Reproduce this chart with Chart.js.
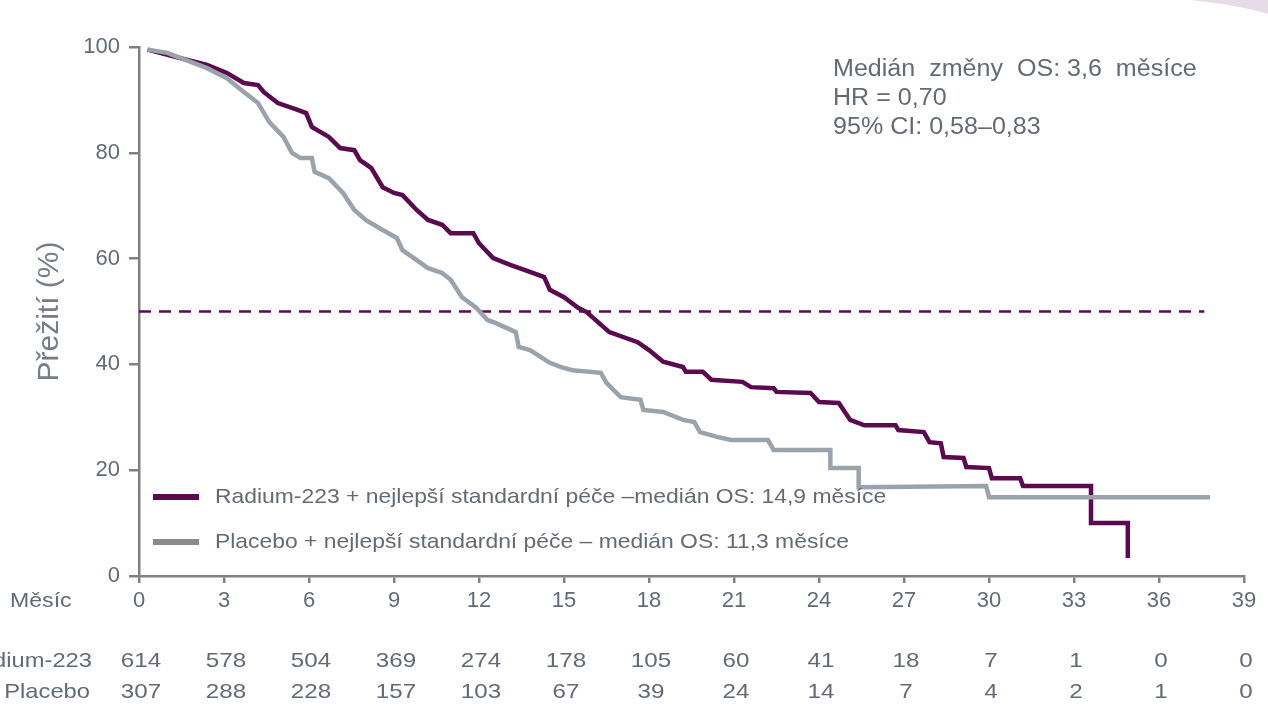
<!DOCTYPE html>
<html>
<head>
<meta charset="utf-8">
<script src="https://cdn.jsdelivr.net/npm/chart.js@4"></script>
<style>
  body { margin: 0; background: #fff; }
  canvas { display: block; }
</style>
</head>
<body>
<canvas id="km" width="1268" height="723"></canvas>
<script>
const radiumMonths = [0.3, 2.4, 3.1, 3.7, 4.2, 4.4, 4.9, 5.6, 5.9, 6.1, 6.7, 7.1, 7.6, 7.8, 8.2, 8.6, 9.0, 9.3, 9.8, 10.2, 10.7, 11.0, 11.8, 12.0, 12.5, 13.1, 13.8, 14.3, 14.5, 15.0, 15.5, 15.8, 16.2, 16.6, 17.6, 18.0, 18.5, 19.2, 19.3, 19.9, 20.2, 21.3, 21.6, 22.4, 22.5, 23.7, 24.0, 24.7, 25.1, 25.6, 26.7, 26.8, 27.7, 27.9, 28.3, 28.4, 29.1, 29.2, 30.0, 30.1, 31.1, 31.2, 33.6, 33.6, 34.9, 34.9];
const radiumSurvival = [99.5, 96.6, 95.1, 93.2, 92.8, 91.5, 89.4, 88.1, 87.5, 84.9, 83.0, 80.9, 80.5, 78.6, 77.1, 73.5, 72.4, 72.0, 69.2, 67.3, 66.4, 64.8, 64.8, 62.9, 60.1, 58.8, 57.5, 56.5, 54.1, 52.7, 50.7, 49.9, 48.0, 46.1, 44.2, 42.7, 40.5, 39.5, 38.6, 38.6, 37.1, 36.7, 35.7, 35.5, 34.8, 34.6, 32.9, 32.7, 29.5, 28.5, 28.5, 27.6, 27.2, 25.3, 25.1, 22.5, 22.3, 20.6, 20.4, 18.5, 18.5, 17.0, 17.0, 10.0, 10.0, 3.4];

const placeboMonths = [0.3, 1.0, 2.4, 3.1, 3.7, 4.2, 4.6, 5.1, 5.4, 5.7, 6.1, 6.2, 6.7, 7.2, 7.6, 8.0, 8.6, 9.1, 9.3, 9.8, 10.2, 10.7, 11.0, 11.4, 11.9, 12.3, 12.6, 13.3, 13.4, 13.8, 14.5, 14.9, 15.3, 16.3, 16.5, 17.0, 17.7, 17.8, 18.5, 19.2, 19.6, 19.8, 20.4, 20.9, 22.2, 22.4, 24.4, 24.4, 25.4, 25.4, 29.9, 30.0, 37.8];
const placeboSurvival = [99.5, 98.9, 96.0, 94.1, 91.5, 89.4, 85.8, 83.0, 80.0, 79.0, 79.0, 76.4, 75.2, 72.4, 69.2, 67.3, 65.4, 63.9, 61.6, 59.7, 58.2, 57.3, 56.0, 52.7, 50.7, 48.4, 47.8, 46.1, 43.3, 42.7, 40.3, 39.5, 38.9, 38.4, 36.5, 33.8, 33.3, 31.4, 31.0, 29.5, 29.1, 27.2, 26.3, 25.7, 25.7, 23.8, 23.8, 20.4, 20.4, 16.8, 17.0, 14.9, 14.9];

const medianLine = [0, 37.6];

const riskMonths = [0, 3, 6, 9, 12, 15, 18, 21, 24, 27, 30, 33, 36, 39];
const radiumAtRisk = [614, 578, 504, 369, 274, 178, 105, 60, 41, 18, 7, 1, 0, 0];
const placeboAtRisk = [307, 288, 228, 157, 103, 67, 39, 24, 14, 7, 4, 2, 1, 0];

const legendLabels = [
  'Radium-223 + nejlepší standardní péče –medián OS: 14,9 měsíce',
  'Placebo + nejlepší standardní péče – medián OS: 11,3 měsíce'
];
const statLines = ['Medián  změny  OS: 3,6  měsíce', 'HR = 0,70', '95% CI: 0,58–0,83'];

const PURPLE = '#5b0a4f';
const GRAY = '#9aa3ab';
const TEXT = '#646a75';
const FONT = '"Liberation Sans", Arial, sans-serif';

function pts(xs, ys) {
  return xs.map((x, i) => ({ x: x, y: ys[i] }));
}

// text in the source slide is a bit stretched sideways
function wide(c, text, x, y, sx, align) {
  c.save();
  c.translate(x, y);
  c.scale(sx, 1);
  c.textAlign = align;
  c.fillText(text, 0, 0);
  c.restore();
}

const extras = {
  id: 'extras',
  beforeDraw(chart) {
    const c = chart.ctx;
    c.save();
    c.fillStyle = '#e7dbe8';
    c.beginPath();
    c.moveTo(1190, 0);
    c.quadraticCurveTo(1238, 5, 1268, 14);
    c.lineTo(1268, 0);
    c.closePath();
    c.fill();
    c.restore();
  },
  afterDatasetsDraw(chart) {
    const c = chart.ctx;
    const x = chart.scales.x;
    c.save();
    c.fillStyle = TEXT;
    c.textBaseline = 'middle';

    // statistika vpravo nahoře
    c.font = '23px ' + FONT;
    statLines.forEach((t, i) => wide(c, t, 833, 70 + i * 29, 1.09, 'left'));

    // legenda
    [PURPLE, '#8a8a8a'].forEach((col, i) => {
      const y = 497 + i * 45;
      c.strokeStyle = col;
      c.lineWidth = 6;
      c.beginPath();
      c.moveTo(153, y);
      c.lineTo(199, y);
      c.stroke();
      c.font = '21px ' + FONT;
      wide(c, legendLabels[i], 215, y, 1.09, 'left');
    });

    // tabulka počtu pacientů
    c.font = '21px ' + FONT;
    wide(c, 'Měsíc', 10, 601, 1.1, 'left');
    wide(c, 'Radium-223', 92, 661, 1.13, 'right');
    wide(c, 'Placebo', 90, 692, 1.13, 'right');
    riskMonths.forEach((m, i) => {
      const px = x.getPixelForValue(m);
      wide(c, String(radiumAtRisk[i]), px + 2, 661, 1.15, 'center');
      wide(c, String(placeboAtRisk[i]), px + 2, 692, 1.15, 'center');
    });
    c.restore();
  }
};

new Chart(document.getElementById('km'), {
  type: 'line',
  data: {
    datasets: [
      {
        data: pts(placeboMonths, placeboSurvival),
        borderColor: GRAY,
        borderWidth: 4.5,
        pointRadius: 0,
        tension: 0
      },
      {
        data: pts(radiumMonths, radiumSurvival),
        borderColor: PURPLE,
        borderWidth: 4.5,
        pointRadius: 0,
        tension: 0
      },
      {
        data: medianLine.map(m => ({ x: m, y: 50 })),
        borderColor: PURPLE,
        borderWidth: 2.5,
        borderDash: [12, 8],
        pointRadius: 0
      }
    ]
  },
  options: {
    responsive: false,
    animation: false,
    layout: { padding: { top: 47, right: 24, left: 0, bottom: 0 } },
    plugins: { legend: { display: false }, tooltip: { enabled: false } },
    scales: {
      x: {
        type: 'linear',
        min: 0,
        max: 39,
        afterFit: s => { s.height = 147; },
        ticks: { stepSize: 3, color: TEXT, padding: 5, font: { size: 22, family: FONT } },
        grid: { drawOnChartArea: false, tickLength: 7, color: '#808080', lineWidth: 2.5 },
        border: { color: '#808080', width: 2.5 }
      },
      y: {
        min: 0,
        max: 100,
        afterFit: s => { s.width = 139; },
        ticks: { stepSize: 20, color: TEXT, padding: 9, font: { size: 22, family: FONT } },
        grid: { drawOnChartArea: false, tickLength: 10, color: '#808080', lineWidth: 2.5 },
        border: { color: '#808080', width: 2.5 },
        title: {
          display: true,
          text: 'Přežití (%)',
          color: '#767c88',
          font: { size: 30, family: FONT },
          padding: { top: 32, bottom: 0 }
        }
      }
    }
  },
  plugins: [extras]
});
</script>
</body>
</html>
